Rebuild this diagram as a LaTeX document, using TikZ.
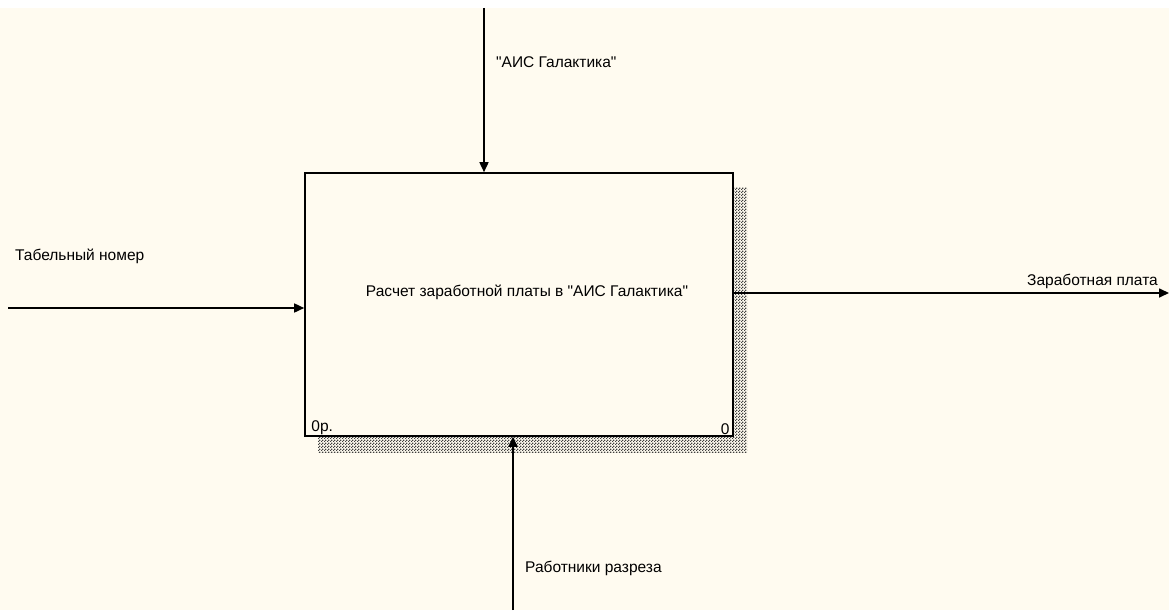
\documentclass[tikz,border=0pt]{standalone}
\usepackage{fontspec}
\setmainfont{Liberation Sans}[Ligatures=TeXOff]
\usetikzlibrary{arrows.meta,positioning,patterns}
\definecolor{paper}{HTML}{FFFBF0}
\pgfdeclarepatternformonly{dither}{\pgfpointorigin}{\pgfqpoint{3pt}{3pt}}
  {\pgfqpoint{3pt}{3pt}}
  {\pgfpathrectangle{\pgfpointorigin}{\pgfqpoint{1.5pt}{1.5pt}}
   \pgfpathrectangle{\pgfqpoint{1.5pt}{1.5pt}}{\pgfqpoint{1.5pt}{1.5pt}}
   \pgfusepath{fill}}

\begin{document}
\begin{tikzpicture}[
  x=1pt, y=-1pt,
  font=\fontsize{15.5}{18}\selectfont,
  actbox/.style={draw, line width=1.6pt, fill=paper, minimum width=428pt,
                 minimum height=263pt, inner sep=0pt},
  shade/.style={pattern=dither, pattern color=black!75},
  arr/.style={-{Triangle[length=10pt,width=9pt]}, line width=1.6pt},
  lbl/.style={inner sep=1pt, anchor=west}
]
% ---------------- sheet ----------------
\useasboundingbox (0,0) rectangle (1169,610);
\fill[white] (0,0) rectangle (1169,610);
\fill[paper] (0,8) rectangle (1169,610);
% ---------------- activity ----------------
\fill[shade] (318,187) rectangle (747,452);
\node[actbox] (act) at (519,304.5) {};
\node[inner sep=0pt] (actlbl) at (527,292) {Расчет заработной платы в "АИС Галактика"};
\node[inner sep=2pt, anchor=south west] (num) at ([xshift=5pt]act.south west) {0р.};
\node[inner sep=2pt, anchor=south east] (nodeno) at ([xshift=-2pt]act.south east) {0};
% ---------------- arrow ends ----------------
\coordinate (ctl) at (484,8);
\coordinate (inp) at (8,308);
\coordinate (outp) at (1169,293);
\coordinate (mech) at (513,610);
% ---------------- labels ----------------
\node[lbl] (ctllbl) at (495,62) {"АИС Галактика"};
\node[lbl] (inplbl) at (14,256) {Табельный номер};
\node[lbl] (outlbl) at (1026,281) {Заработная плата};
\node[lbl] (mechlbl) at (524,568) {Работники разреза};
% ---------------- edges ----------------
\draw[arr] (ctl) -- (ctl |- act.north);
\draw[arr] (inp) -- (inp -| act.west);
\draw[arr] (outp -| act.east) -- (outp);
\draw[arr] (mech) -- (mech |- act.south);
\end{tikzpicture}
\end{document}
